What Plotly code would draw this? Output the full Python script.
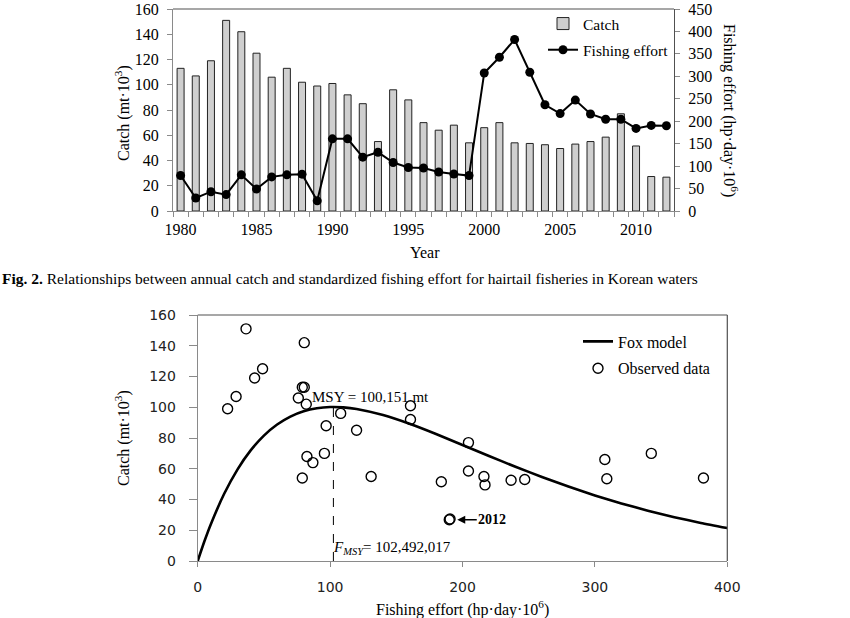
import plotly.graph_objects as go

# ---------------- data ----------------
years = list(range(1980, 2013))
catch = [113, 107, 119, 151, 142, 125, 106, 113, 102, 99, 101, 92, 85, 55, 96, 88,
         70, 64, 68, 54, 66, 70, 54, 53.5, 52.5, 49.5, 53, 55, 58.5, 77, 51.5, 27.3, 26.8]
effort = [79, 29, 43, 36.5, 80.5, 49, 76, 80.5, 82, 22.6, 160.7, 160.7, 120, 131, 108, 97,
          95.7, 87, 82.5, 79, 307.5, 342.6, 382, 309, 236.7, 217, 247, 216.2, 204.5, 204.5,
          184, 190.6, 190]

fox_effort = [0, 5, 10, 20, 30, 40, 50, 60, 70, 80, 90, 100, 110, 120, 140, 160, 180, 200,
              220, 240, 260, 280, 300, 320, 340, 360, 380, 400]
fox_catch = [0, 12.65, 24.09, 43.71, 59.47, 71.92, 81.54, 88.75, 93.92, 97.35, 99.34, 100.12,
             99.89, 98.84, 94.88, 89.21, 82.56, 75.47, 68.30, 61.30, 54.64, 48.40, 42.67,
             37.44, 32.73, 28.51, 24.76, 21.44]

F_MSY = 102.492
MSY = 100.151
year_2012_effort = 190
year_2012_catch = 26.8

W, H = 850, 618
def px(x):
    return x / W
def py(y):
    return 1 - y / H

SERIF = "Liberation Serif"
SANS = "DejaVu Sans"
AXC = "#8a8a8a"
BOX = "#505050"
TOP_Y = 9

fig = go.Figure()

# top chart
fig.add_trace(go.Bar(x=years, y=catch, name="Catch", width=0.46,
                     marker=dict(color="#cfcfcf", line=dict(color="#222", width=1)),
                     xaxis="x", yaxis="y", legend="legend", legendgroup="a"))
fig.add_trace(go.Scatter(x=years, y=effort, name="Fishing effort", mode="lines+markers",
                         line=dict(color="black", width=2),
                         marker=dict(color="black", size=9),
                         xaxis="x", yaxis="y2", legend="legend", legendgroup="b"))

# bottom chart
fig.add_trace(go.Scatter(x=fox_effort, y=fox_catch, name="Fox model", mode="lines",
                         line=dict(color="black", width=2.6, shape="spline", smoothing=0.6),
                         xaxis="x2", yaxis="y3", legend="legend2", legendgroup="c"))
fig.add_trace(go.Scatter(x=effort, y=catch, name="Observed data", mode="markers",
                         marker=dict(symbol="circle-open", size=10, color="black",
                                     line=dict(width=1.4, color="black")),
                         xaxis="x2", yaxis="y3", legend="legend2", legendgroup="d"))

tickfont_top = dict(family=SERIF, size=16, color="black")
tickfont_bot = dict(family=SANS, size=14, color="#222")

fig.update_layout(
    width=W, height=H, margin=dict(l=0, r=0, t=0, b=0, pad=0, autoexpand=False),
    paper_bgcolor="white", plot_bgcolor="white",
    showlegend=True,
    xaxis=dict(domain=[px(173), px(674)], range=[1979.5, 2012.5],
               tickmode="linear", tick0=1980, dtick=5, ticks="", showgrid=False,
               zeroline=False, showline=True, linecolor=AXC, linewidth=1,
               tickfont=tickfont_top, ticklabelstandoff=4, automargin=False,
               ticklabeloverflow="allow",
               minor=dict(tick0=1979.5, dtick=1, ticks="outside", ticklen=5,
                          tickcolor=AXC, showgrid=False),
               anchor="y"),
    yaxis=dict(domain=[py(211), py(TOP_Y)], range=[0, 160], dtick=20, ticks="outside",
               ticklen=5, tickcolor=AXC, showgrid=False, zeroline=False, showline=True,
               linecolor=AXC, tickfont=tickfont_top, ticklabelstandoff=5, anchor="x",
               automargin=False, ticklabeloverflow="allow"),
    yaxis2=dict(overlaying="y", side="right", range=[0, 450], dtick=50, ticks="outside",
                ticklen=5, tickcolor=AXC, showgrid=False, zeroline=False, showline=True,
                linecolor=BOX, tickfont=tickfont_top, ticklabelstandoff=5, anchor="x",
                automargin=False, ticklabeloverflow="allow"),
    xaxis2=dict(domain=[px(197.7), px(727.3)], range=[0, 400], dtick=100, ticks="outside",
                ticklen=5, tickcolor=AXC, showgrid=False, zeroline=False, showline=True,
                linecolor=AXC, tickfont=tickfont_bot, ticklabelstandoff=8, anchor="y3",
                automargin=False, ticklabeloverflow="allow"),
    yaxis3=dict(domain=[py(561), py(315)], range=[0, 160], dtick=20, ticks="outside",
                ticklen=8, tickcolor=AXC, showgrid=False, zeroline=False, showline=True,
                linecolor=AXC, tickfont=tickfont_bot, ticklabelstandoff=10, anchor="x2",
                automargin=False, ticklabeloverflow="allow"),
    legend=dict(x=px(543), y=py(7), xanchor="left", yanchor="top",
                font=dict(family=SERIF, size=15.5, color="black"),
                bgcolor="rgba(0,0,0,0)", itemwidth=30, traceorder="grouped",
                tracegroupgap=3),
    legend2=dict(x=px(578), y=py(324.5), xanchor="left", yanchor="top",
                 font=dict(family=SERIF, size=16, color="black"),
                 bgcolor="rgba(0,0,0,0)", itemwidth=30, traceorder="grouped",
                 tracegroupgap=3),
)

# plot-area frames (top and right edges darker)
shapes = [
    dict(type="line", xref="paper", yref="paper", x0=px(173), x1=px(674), y0=py(TOP_Y), y1=py(TOP_Y),
         line=dict(color=BOX, width=1.2)),
    dict(type="line", xref="paper", yref="paper", x0=px(197.7), x1=px(727.3), y0=py(315), y1=py(315),
         line=dict(color=BOX, width=1.2)),
    dict(type="line", xref="paper", yref="paper", x0=px(727.3), x1=px(727.3), y0=py(315), y1=py(561),
         line=dict(color=BOX, width=1.2)),
    dict(type="line", xref="x2", yref="y3", x0=F_MSY, x1=F_MSY, y0=0, y1=MSY,
         line=dict(color="black", width=1, dash="dash")),
]
fig.update_layout(shapes=shapes)

ann = [
    dict(text="Catch (mt·10<sup>3</sup>)", x=px(122), y=py(113), textangle=-90,
         font=dict(family=SERIF, size=16, color="black")),
    dict(text="Fishing effort (hp·day·10<sup>6</sup>)", x=px(731), y=py(110), textangle=90,
         font=dict(family=SERIF, size=16, color="black")),
    dict(text="Year", x=px(425), y=py(252), font=dict(family=SERIF, size=16, color="black")),
    dict(text="<b>Fig. 2.</b> Relationships between annual catch and standardized fishing effort for hairtail fisheries in Korean waters",
         x=0, xanchor="left", y=py(278), font=dict(family=SERIF, size=15.5, color="black")),
    dict(text="Catch (mt·10<sup>3</sup>)", x=px(122), y=py(438), textangle=-90,
         font=dict(family=SERIF, size=16, color="black")),
    dict(text="Fishing effort (hp·day·10<sup>6</sup>)", x=px(462.5), y=py(608),
         font=dict(family=SERIF, size=16, color="black")),
]
for a in ann:
    a.setdefault("xref", "paper")
    a.setdefault("yref", "paper")
    a.setdefault("xanchor", "center")
    a.setdefault("yanchor", "middle")
    a["showarrow"] = False

ann += [
    dict(text="MSY = 100,151 mt", xref="x2", yref="y3", x=F_MSY, y=MSY, xanchor="left",
         yanchor="bottom", xshift=-23, yshift=0, showarrow=False,
         font=dict(family=SERIF, size=15, color="black")),
    dict(text="<i>F</i><sub><i>MSY</i></sub>= 102,492,017", xref="x2", yref="y3", x=F_MSY, y=0,
         xanchor="left", yanchor="bottom", xshift=-2, yshift=2, showarrow=False,
         font=dict(family=SERIF, size=15, color="black")),
    dict(text="<b>2012</b>", xref="x2", yref="y3", x=year_2012_effort, y=year_2012_catch,
         ax=38, ay=0, xshift=5, showarrow=True, arrowhead=2, arrowsize=1, arrowwidth=1.6,
         arrowcolor="black", standoff=3, font=dict(family=SERIF, size=14, color="black")),
]
fig.update_layout(annotations=ann)

fig.write_html("out.html")
